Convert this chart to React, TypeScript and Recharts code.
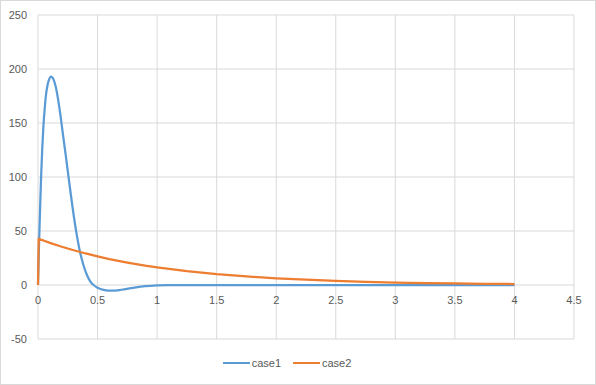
import { LineChart, Line, XAxis, YAxis, CartesianGrid, Legend } from "recharts";

const case1X = [0, 0.008, 0.016, 0.026, 0.036, 0.046, 0.056, 0.066, 0.078, 0.092, 0.11, 0.128, 0.148, 0.17, 0.19, 0.21, 0.233, 0.261, 0.29, 0.323, 0.35, 0.38, 0.41, 0.44, 0.466, 0.5, 0.55, 0.62, 0.7, 0.8, 0.9, 1, 1.1, 1.5, 2, 2.5, 3, 3.5, 4];
const case1Y = [0, 35, 65, 100, 127, 148, 163, 175, 184, 190, 193, 191, 184, 171, 156, 139, 120, 96, 72, 48, 32, 19, 9.5, 3.2, 0, -2.5, -4.5, -5.3, -4.4, -2.6, -1.1, -0.3, 0, 0, 0, 0, 0, 0, 0];

const case2X = [0, 0.006, 0.1, 0.2, 0.3, 0.4, 0.5, 0.6, 0.75, 0.9, 1, 1.25, 1.5, 1.75, 2, 2.25, 2.5, 2.75, 3, 3.25, 3.5, 3.75, 4];
const case2Y = [0, 42.8, 39, 35.4, 32.2, 29.2, 26.5, 24, 20.8, 17.9, 16.3, 12.8, 10, 7.9, 6.2, 4.9, 3.8, 3, 2.3, 1.8, 1.4, 1.1, 0.9];

const xTicks = [0, 0.5, 1, 1.5, 2, 2.5, 3, 3.5, 4, 4.5];
const yTicks = [-50, 0, 50, 100, 150, 200, 250];

const case1 = case1X.map((x, i) => ({ x, v: case1Y[i] }));
const case2 = case2X.map((x, i) => ({ x, v: case2Y[i] }));

const series = [
  { name: "case1", data: case1, color: "#5b9bd5", curve: "monotone" },
  { name: "case2", data: case2, color: "#ed7d31", curve: "linear" },
];

const font = "'Liberation Sans', Arial, sans-serif";

// excel puts the category labels at y = 0, not at the bottom of the plot
const XTick = (props: any) => {
  const { x, y, payload } = props;
  return (
    <text x={x} y={y - 39} dy="0.355em" textAnchor="middle" fontSize={11} fill="#595959" fontFamily={font}>
      {payload.value}
    </text>
  );
};

const LegendBox = () => (
  <div style={{ height: 20, display: "flex", justifyContent: "center", alignItems: "center", fontFamily: font, fontSize: 11, color: "#595959" }}>
    {series.map((s) => (
      <div key={s.name} style={{ display: "flex", alignItems: "center", margin: "0 6px" }}>
        <span style={{ display: "inline-block", width: 27, height: 2, background: s.color, marginRight: 2 }} />
        <span>{s.name}</span>
      </div>
    ))}
  </div>
);

export default function App() {
  return (
    <div style={{ position: "fixed", left: 0, top: 0, width: 596, height: 385, boxSizing: "border-box", border: "1px solid #d9d9d9", background: "#fff" }}>
      <LineChart width={594} height={383} margin={{ top: 14, right: 21, left: -1, bottom: 11 }}>
        <CartesianGrid stroke="#d9d9d9" strokeWidth={1} />
        <XAxis
          type="number"
          dataKey="x"
          domain={[0, 4.5]}
          ticks={xTicks}
          axisLine={false}
          tickLine={false}
          tickSize={0}
          tickMargin={0}
          height={14}
          tick={<XTick />}
          interval={0}
        />
        <YAxis
          type="number"
          domain={[-50, 250]}
          ticks={yTicks}
          axisLine={false}
          tickLine={false}
          tickSize={0}
          tickMargin={11}
          width={38}
          interval={0}
          tick={{ fontSize: 11, fill: "#595959", fontFamily: font }}
        />
        <Legend verticalAlign="bottom" content={<LegendBox />} />
        {series.map((s) => (
          <Line
            key={s.name}
            data={s.data}
            dataKey="v"
            name={s.name}
            type={s.curve as any}
            stroke={s.color}
            strokeWidth={2.25}
            dot={false}
            isAnimationActive={false}
          />
        ))}
      </LineChart>
    </div>
  );
}
